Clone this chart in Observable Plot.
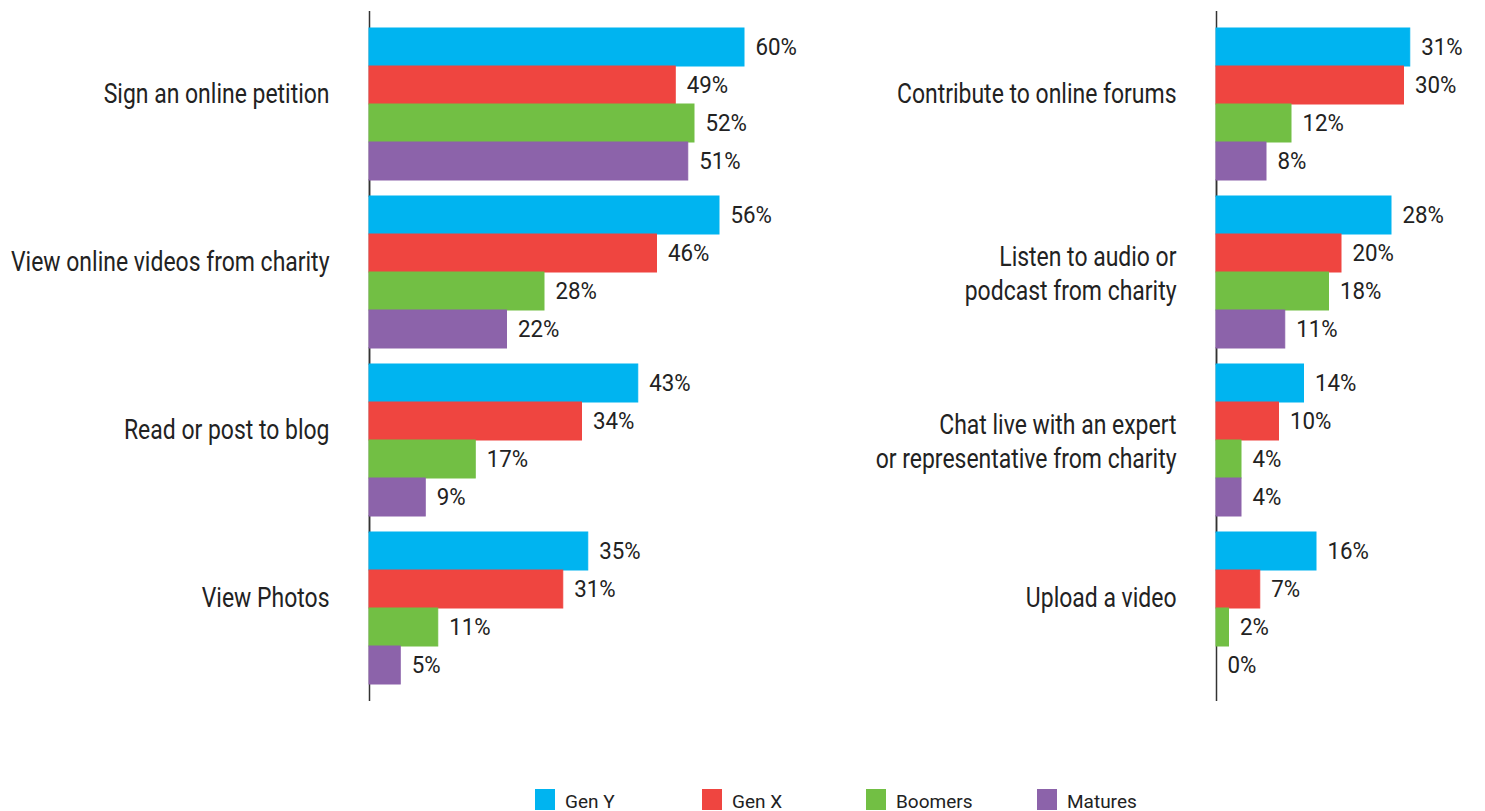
<!DOCTYPE html>
<html>
<head>
<meta charset="utf-8">
<script src="https://cdn.jsdelivr.net/npm/d3@7"></script>
<script src="https://cdn.jsdelivr.net/npm/@observablehq/plot@0.6"></script>
<style>
  html, body { margin: 0; padding: 0; background: #fff; }
  body { width: 1485px; height: 811px; overflow: hidden; position: relative;
         font-family: Roboto, "Liberation Sans", sans-serif; color: #222; }
  .panel { position: absolute; top: 0; }
  .panel svg { overflow: visible; }
  .legend-item { position: absolute; top: 789px; height: 22px; }
  .legend-item .sw { position: absolute; left: 0; top: 0; width: 20px; height: 21px; }
  .legend-item .lb { position: absolute; left: 30px; top: 3px; font-size: 19px; line-height: 19px; white-space: nowrap; color: #222; }
</style>
</head>
<body>
<div id="left" class="panel" style="left:0px"></div>
<div id="right" class="panel" style="left:850px"></div>
<div id="legend"></div>
<script>
// ---- data ----
const generations = ["Gen Y", "Gen X", "Boomers", "Matures"];
const genColors = ["#00b4f0", "#ef4540", "#72bf44", "#8c63aa"];

const leftCategories = ["Sign an online petition", "View online videos from charity", "Read or post to blog", "View Photos"];
const leftGenY    = [60, 56, 43, 35];
const leftGenX    = [49, 46, 34, 31];
const leftBoomers = [52, 28, 17, 11];
const leftMatures = [51, 22, 9, 5];

const rightCategories = ["Contribute to online forums", "Listen to audio or\npodcast from charity", "Chat live with an expert\nor representative from charity", "Upload a video"];
const rightGenY    = [31, 28, 14, 16];
const rightGenX    = [30, 20, 10, 7];
const rightBoomers = [12, 18, 4, 2];
const rightMatures = [8, 11, 4, 0];

const FONT = 'Roboto, "Liberation Sans", sans-serif';

function panel(cats, series, width, marginLeft, maxX) {
  const rows = cats.flatMap((c, i) => generations.map((g, j) => ({cat: c, gen: g, value: series[j][i]})));
  const single = cats.filter(c => !c.includes("\n"));
  const multi = cats.filter(c => c.includes("\n"));
  const plotW = maxX * 6.25;
  const svg = Plot.plot({
    width, height: 720,
    marginTop: 10, marginBottom: 17, marginLeft, marginRight: width - marginLeft - plotW,
    style: {fontFamily: FONT, background: "transparent", overflow: "visible", color: "#222"},
    x: {domain: [0, maxX], axis: null},
    y: {domain: generations, axis: null, padding: 0},
    fy: {domain: cats, axis: null, paddingInner: 0.095, paddingOuter: 0.1},
    color: {domain: generations, range: genColors},
    marks: [
      Plot.ruleX([0], {stroke: "#333", strokeWidth: 1.5, insetTop: -17, insetBottom: -17}),
      Plot.barX(rows, {fy: "cat", y: "gen", x: "value", fill: "gen", stroke: "gen", strokeWidth: 1}),
      Plot.text(rows, {fy: "cat", y: "gen", x: "value", text: d => d.value + "%", textAnchor: "start", dx: 11, fontSize: 24, fill: "#222", className: "vlabel"}),
      Plot.text(single, {fy: d => d, text: d => d, frameAnchor: "left", textAnchor: "end", dx: -40, dy: -10, fontSize: 28, fill: "#222", className: "catlabel"}),
      Plot.text(multi, {fy: d => d, text: d => d, frameAnchor: "left", textAnchor: "end", dx: -40, dy: 0, lineHeight: 1.21, fontSize: 28, fill: "#222", className: "catlabel"})
    ]
  });
  // condensed look: narrow the category labels horizontally
  d3.select(svg).selectAll(".catlabel text").each(function() {
    const t = this.getAttribute("transform") || "";
    this.setAttribute("transform", t + " scale(0.82,1)");
  });
  d3.select(svg).selectAll(".vlabel text").each(function() {
    const t = this.getAttribute("transform") || "";
    this.setAttribute("transform", t + " scale(0.93,1)");
  });
  return svg;
}

document.getElementById("left").appendChild(
  panel(leftCategories, [leftGenY, leftGenX, leftBoomers, leftMatures], 850, 369, 72));
document.getElementById("right").appendChild(
  panel(rightCategories, [rightGenY, rightGenX, rightBoomers, rightMatures], 635, 366, 40));

// legend
const legendLeft = [535, 702, 866, 1037];
const legend = document.getElementById("legend");
generations.forEach((g, i) => {
  const item = document.createElement("div");
  item.className = "legend-item";
  item.style.left = legendLeft[i] + "px";
  item.innerHTML = `<div class="sw" style="background:${genColors[i]}"></div><div class="lb">${g}</div>`;
  legend.appendChild(item);
});
</script>
</body>
</html>
